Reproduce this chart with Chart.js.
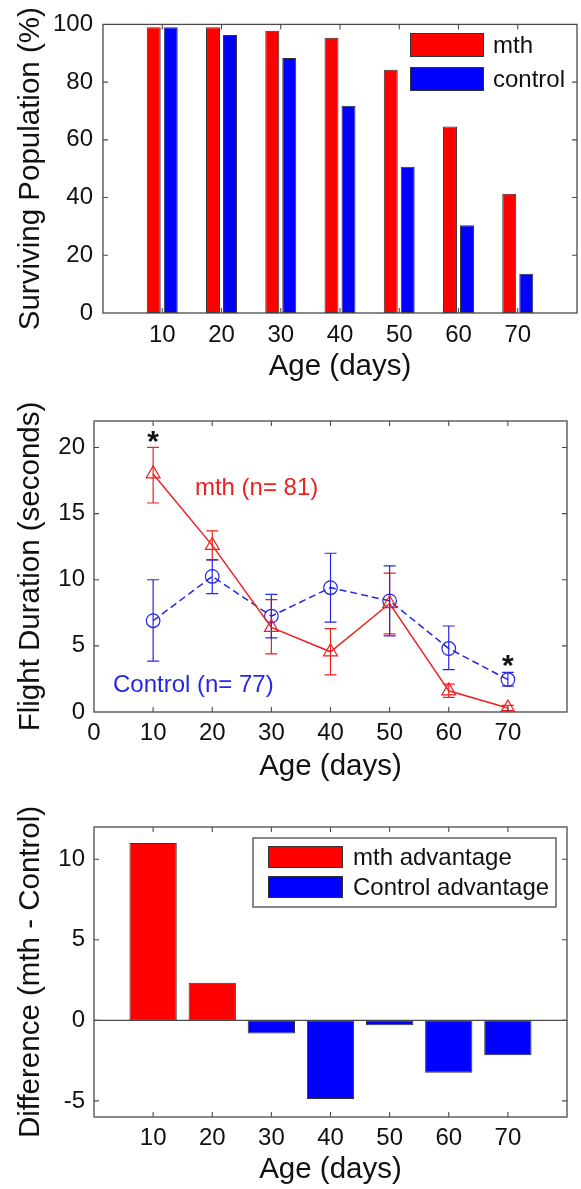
<!DOCTYPE html>
<html><head><meta charset="utf-8">
<script src="https://cdn.jsdelivr.net/npm/chart.js@4.4.1/dist/chart.umd.min.js"></script>
<style>
html,body{margin:0;padding:0;background:#fff;}
body{width:581px;height:1189px;position:relative;overflow:hidden;}
canvas{position:absolute;left:0;}
</style></head><body>
<canvas id="c1" width="581" height="390" style="top:0px"></canvas>
<canvas id="c2" width="581" height="400" style="top:390px"></canvas>
<canvas id="c3" width="581" height="399" style="top:790px"></canvas>
<script>
// ---- data ----
const ages = [10, 20, 30, 40, 50, 60, 70];
const survivalMth = [99.0, 99.0, 97.8, 95.4, 84.3, 64.6, 41.3];
const survivalControl = [99.0, 96.3, 88.4, 71.8, 50.7, 30.4, 13.6];
const flightMth = [18.0, 12.6, 6.4, 4.55, 8.2, 1.6, 0.3];
const flightMthLow = [15.8, 11.5, 4.4, 2.8, 5.9, 1.1, 0.1];
const flightMthHigh = [20.0, 13.7, 8.5, 6.3, 10.5, 2.1, 0.5];
const flightControl = [6.9, 10.25, 7.25, 9.4, 8.4, 4.8, 2.45];
const flightControlLow = [3.85, 8.95, 5.6, 6.8, 5.75, 3.2, 1.95];
const flightControlHigh = [10.0, 11.5, 8.9, 12.0, 11.05, 6.5, 3.0];
const sigAges = [10, 70];
const sigHeights = [21.0, 4.1];
const difference = [11.0, 2.33, -0.82, -4.89, -0.31, -3.26, -2.16];
const survivalYTicks = [0, 20, 40, 60, 80, 100];
const flightXTicks = [0, 10, 20, 30, 40, 50, 60, 70];
const flightYTicks = [0, 5, 10, 15, 20];
const diffYTicks = [-5, 0, 5, 10];

// ---- styles ----
const FONT = "'Liberation Sans', Arial, Helvetica, sans-serif";
const RED = '#ff0000', BLUE = '#0000ff';
const RED_LINE = '#ee2020', BLUE_LINE = '#2626e8';
const INK = '#111111', AXIS = '#4a4a4a';
const TICK_SIZE = 24, TITLE_SIZE = 29.5, TEXT_SIZE = 24;

const framePlugin = {
  id: 'frame',
  afterDatasetsDraw(chart, args, o) {
    const {ctx, chartArea: a} = chart;
    const x = chart.scales.x, y = chart.scales.y;
    ctx.save();
    ctx.strokeStyle = AXIS; ctx.lineWidth = 1.3;
    if (o.zeroLine) {
      const py = y.getPixelForValue(0);
      ctx.beginPath(); ctx.moveTo(a.left, py); ctx.lineTo(a.right, py); ctx.stroke();
    }
    ctx.lineWidth = 1.1;
    ctx.beginPath();
    for (const t of x.ticks) {
      const px = x.getPixelForValue(t.value);
      if (px <= a.left + 1 || px >= a.right - 1) continue;
      ctx.moveTo(px, a.bottom); ctx.lineTo(px, a.bottom - 5);
      ctx.moveTo(px, a.top); ctx.lineTo(px, a.top + 5);
    }
    for (const t of y.ticks) {
      const py = y.getPixelForValue(t.value);
      if (py <= a.top + 1 || py >= a.bottom - 1) continue;
      ctx.moveTo(a.left, py); ctx.lineTo(a.left + 5, py);
      ctx.moveTo(a.right, py); ctx.lineTo(a.right - 5, py);
    }
    ctx.stroke();
    ctx.lineWidth = 1.3;
    ctx.strokeRect(a.left, a.top, a.right - a.left, a.bottom - a.top);
    ctx.restore();
  }
};

const boxLegend = {
  id: 'boxLegend',
  afterDraw(chart, args, o) {
    const ctx = chart.ctx;
    ctx.save();
    if (o.frame) {
      ctx.fillStyle = '#fff';
      ctx.fillRect(o.frame[0], o.frame[1], o.frame[2], o.frame[3]);
      ctx.strokeStyle = AXIS; ctx.lineWidth = 1.3;
      ctx.strokeRect(o.frame[0], o.frame[1], o.frame[2], o.frame[3]);
    }
    chart.data.datasets.forEach((ds, i) => {
      const top = o.y + i * o.pitch;
      ctx.fillStyle = ds.swatch;
      ctx.fillRect(o.x, top, o.w, o.h);
      ctx.strokeStyle = '#333'; ctx.lineWidth = 1;
      ctx.strokeRect(o.x + 0.5, top + 0.5, o.w - 1, o.h - 1);
      ctx.fillStyle = INK;
      ctx.font = o.size + 'px ' + FONT;
      ctx.textAlign = 'left'; ctx.textBaseline = 'middle';
      ctx.fillText(ds.label, o.x + o.w + o.gap, top + o.h / 2 + 1);
    });
    ctx.restore();
  }
};

const errorBars = {
  id: 'errorBars',
  beforeDatasetsDraw(chart, args, o) {
    const {ctx} = chart; const x = chart.scales.x, y = chart.scales.y;
    ctx.save();
    o.series.forEach(s => {
      ctx.strokeStyle = s.color; ctx.lineWidth = 1.2;
      ctx.beginPath();
      ages.forEach((a, i) => {
        const px = x.getPixelForValue(a);
        const lo = y.getPixelForValue(s.low[i]);
        const hi = y.getPixelForValue(s.high[i]);
        ctx.moveTo(px, lo); ctx.lineTo(px, hi);
        ctx.moveTo(px - o.cap, lo); ctx.lineTo(px + o.cap, lo);
        ctx.moveTo(px - o.cap, hi); ctx.lineTo(px + o.cap, hi);
      });
      ctx.stroke();
    });
    ctx.restore();
  },
  afterDatasetsDraw(chart, args, o) {
    const {ctx} = chart; const x = chart.scales.x, y = chart.scales.y;
    ctx.save();
    ctx.fillStyle = INK; ctx.font = 'bold ' + o.starSize + 'px ' + FONT;
    ctx.textAlign = 'center'; ctx.textBaseline = 'alphabetic';
    sigAges.forEach((a, i) => {
      ctx.fillText('*', x.getPixelForValue(a), y.getPixelForValue(sigHeights[i]) + o.starSize * 0.57);
    });
    ctx.textBaseline = 'middle';
    o.labels.forEach(l => {
      ctx.fillStyle = l.color; ctx.font = o.labelSize + 'px ' + FONT;
      ctx.fillText(l.text, x.getPixelForValue(l.x), y.getPixelForValue(l.y));
    });
    ctx.restore();
  }
};

function xAxis(tickVals, height, tickPad, titlePad) {
  return {
    type: 'linear', min: 0, max: 80, offset: false,
    afterBuildTicks: s => { s.ticks = tickVals.map(v => ({value: v})); },
    afterFit: s => { s.height = height; },
    grid: {display: false, drawTicks: false, offset: false},
    border: {display: false},
    ticks: {font: {family: FONT, size: TICK_SIZE}, color: INK, padding: tickPad, maxRotation: 0, autoSkip: false},
    title: {display: true, text: 'Age (days)', color: INK, font: {family: FONT, size: TITLE_SIZE}, padding: {top: 0, bottom: titlePad}}
  };
}
function yAxis(min, max, tickVals, width, tickPad, title) {
  return {
    type: 'linear', min: min, max: max,
    afterBuildTicks: s => { s.ticks = tickVals.map(v => ({value: v})); },
    afterFit: s => { s.width = width; },
    grid: {display: false, drawTicks: false},
    border: {display: false},
    ticks: {font: {family: FONT, size: TICK_SIZE}, color: INK, padding: tickPad},
    title: {display: true, text: title, color: INK, font: {family: FONT, size: TITLE_SIZE}, padding: {top: 13, bottom: 0}}
  };
}
const common = {responsive: false, animation: false, devicePixelRatio: 1, events: []};

// ---- Chart 1: surviving population ----
new Chart(document.getElementById('c1'), {
  type: 'bar',
  data: {datasets: [
    {label: 'mth', swatch: RED, data: ages.map((a, i) => ({x: a, y: survivalMth[i]})),
     backgroundColor: RED, borderColor: '#333', borderWidth: 1, borderSkipped: false,
     categoryPercentage: 0.574, barPercentage: 0.82},
    {label: 'control', swatch: BLUE, data: ages.map((a, i) => ({x: a, y: survivalControl[i]})),
     backgroundColor: BLUE, borderColor: '#333', borderWidth: 1, borderSkipped: false,
     categoryPercentage: 0.574, barPercentage: 0.82}
  ]},
  options: Object.assign({}, common, {
    layout: {padding: {left: 0, right: 4, top: 21, bottom: 0}},
    plugins: {legend: {display: false}, tooltip: {enabled: false},
      frame: {},
      boxLegend: {x: 410, y: 33, w: 74, h: 24, pitch: 34, gap: 9, size: TEXT_SIZE}},
    scales: {
      x: xAxis(ages, 77, 8, 5),
      y: yAxis(0, 100, survivalYTicks, 103, 10, 'Surviving Population (%)')
    }
  }),
  plugins: [framePlugin, boxLegend]
});

// ---- Chart 2: flight duration ----
new Chart(document.getElementById('c2'), {
  type: 'line',
  data: {datasets: [
    {label: 'mth', data: ages.map((a, i) => ({x: a, y: flightMth[i]})),
     borderColor: RED_LINE, borderWidth: 1.5, tension: 0, clip: 0,
     pointStyle: 'triangle', pointRadius: 8, pointBorderWidth: 1.2,
     pointBackgroundColor: 'rgba(0,0,0,0)', pointBorderColor: RED_LINE},
    {label: 'Control', data: ages.map((a, i) => ({x: a, y: flightControl[i]})),
     borderColor: BLUE_LINE, borderWidth: 1.5, borderDash: [7, 4], tension: 0, clip: 0,
     pointStyle: 'circle', pointRadius: 6.8, pointBorderWidth: 1.2,
     pointBackgroundColor: 'rgba(0,0,0,0)', pointBorderColor: BLUE_LINE}
  ]},
  options: Object.assign({}, common, {
    layout: {padding: {left: 0, right: 14, top: 31, bottom: 0}},
    plugins: {legend: {display: false}, tooltip: {enabled: false},
      frame: {},
      errorBars: {
        cap: 6, starSize: 30, labelSize: TEXT_SIZE,
        series: [
          {color: RED_LINE, low: flightMthLow, high: flightMthHigh},
          {color: BLUE_LINE, low: flightControlLow, high: flightControlHigh}
        ],
        labels: [
          {text: 'mth (n= 81)', color: RED_LINE, x: 27.5, y: 16.9},
          {text: 'Control (n= 77)', color: BLUE_LINE, x: 16.8, y: 2.0}
        ]
      }},
    scales: {
      x: xAxis(flightXTicks, 78, 7, 5),
      y: yAxis(0, 22, flightYTicks, 94, 9, 'Flight Duration (seconds)')
    }
  }),
  plugins: [errorBars, framePlugin]
});

// ---- Chart 3: difference ----
new Chart(document.getElementById('c3'), {
  type: 'bar',
  data: {datasets: [
    {label: 'mth advantage', swatch: RED, data: ages.map((a, i) => ({x: a, y: difference[i] > 0 ? difference[i] : null})),
     backgroundColor: RED, borderColor: '#333', borderWidth: 1, borderSkipped: false,
     grouped: false, categoryPercentage: 1, barPercentage: 0.8},
    {label: 'Control advantage', swatch: BLUE, data: ages.map((a, i) => ({x: a, y: difference[i] < 0 ? difference[i] : null})),
     backgroundColor: BLUE, borderColor: '#333', borderWidth: 1, borderSkipped: false,
     grouped: false, categoryPercentage: 1, barPercentage: 0.8}
  ]},
  options: Object.assign({}, common, {
    layout: {padding: {left: 0, right: 14, top: 37, bottom: 0}},
    plugins: {legend: {display: false}, tooltip: {enabled: false},
      frame: {zeroLine: true},
      boxLegend: {frame: [253, 48, 303, 69], x: 268, y: 56, w: 75, h: 22, pitch: 30, gap: 10, size: TEXT_SIZE}},
    scales: {
      x: xAxis(ages, 72, 7, 1),
      y: yAxis(-6, 12, diffYTicks, 94, 9, 'Difference (mth - Control)')
    }
  }),
  plugins: [framePlugin, boxLegend]
});
</script>
</body></html>
